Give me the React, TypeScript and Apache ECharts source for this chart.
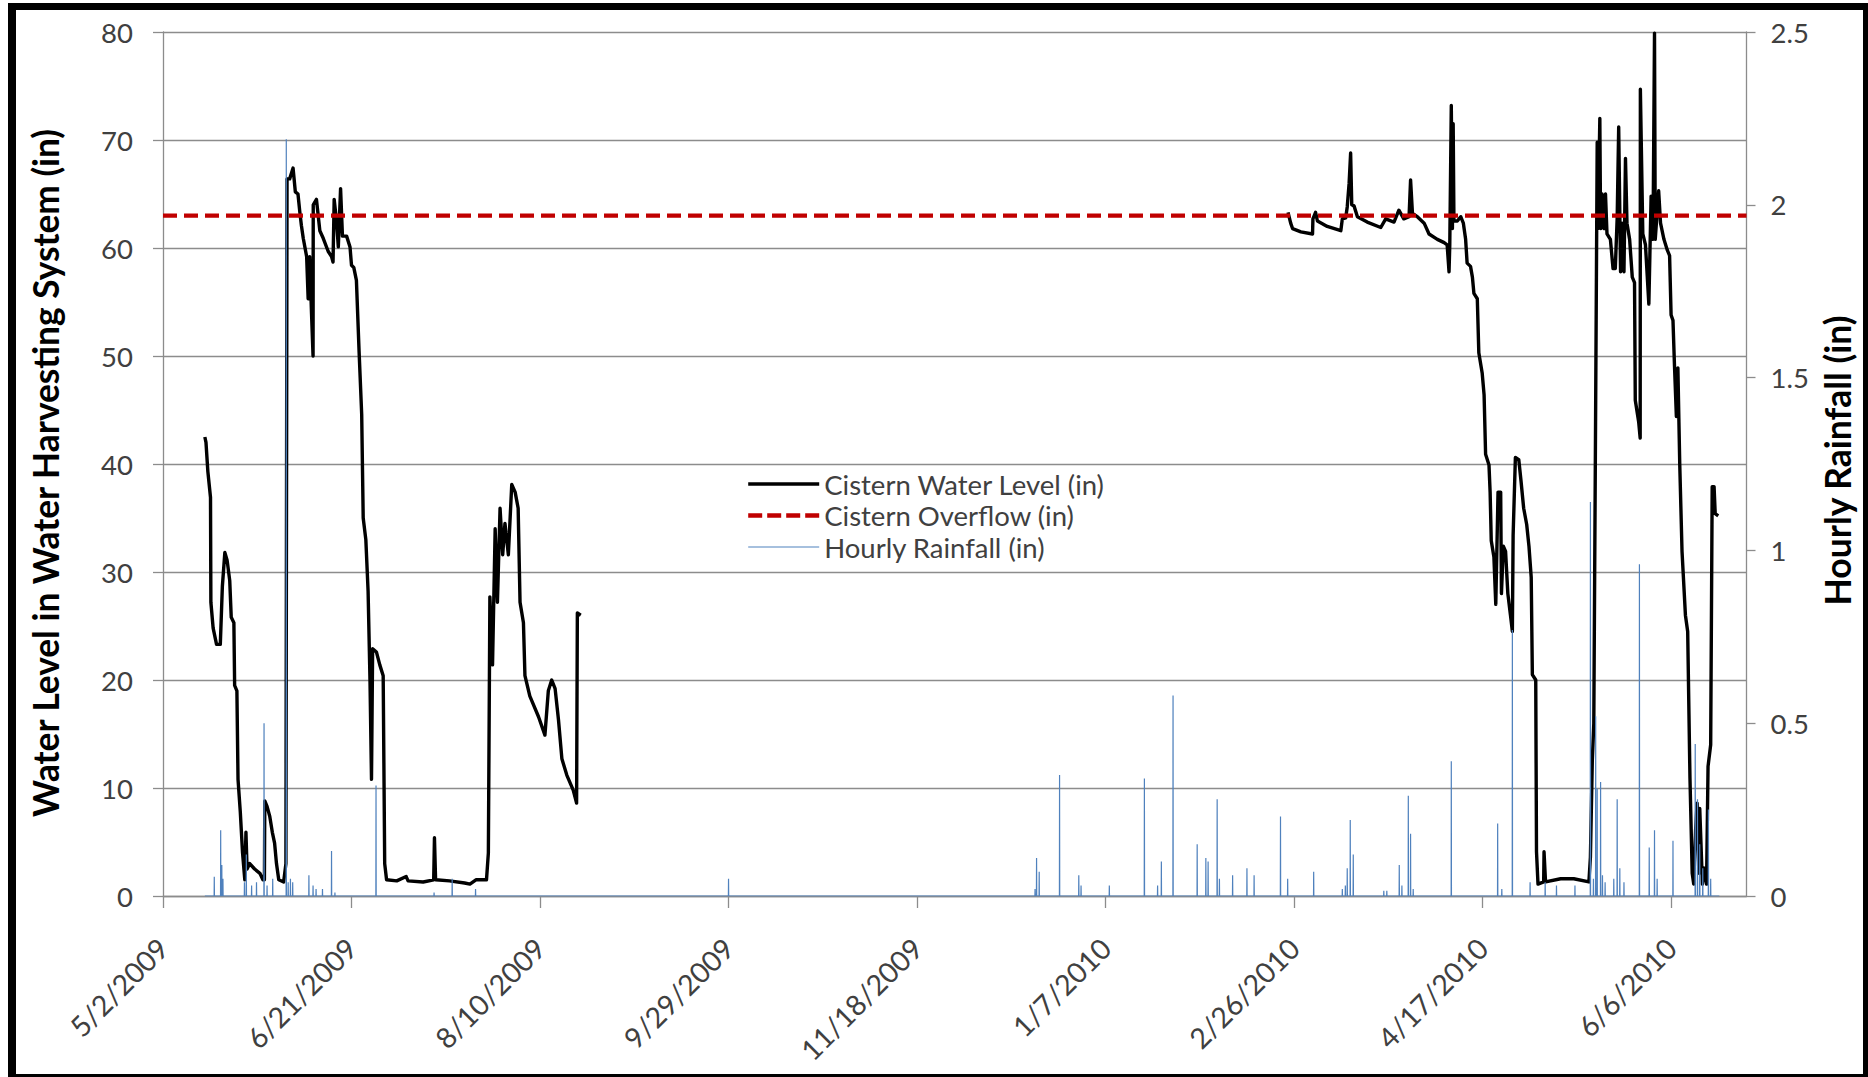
import React, { useEffect, useRef } from "react";
import * as echarts from "echarts";

// x values are days counted from 5/2/2009
const START_DATE_UTC = Date.UTC(2009, 4, 2);
const X_MAX_DAYS = 420;
const X_INTERVAL_DAYS = 50;

const SERIES_NAMES = ["Cistern Water Level (in)", "Cistern Overflow (in)", "Hourly Rainfall (in)"];
const LEFT_TITLE = "Water Level in Water Harvesting System (in)";
const RIGHT_TITLE = "Hourly Rainfall (in)";

const OVERFLOW_LEVEL = 63;

// Cistern water level, first monitoring period (day, inches)
const level2009: [number, number][] = [
  [11.1, 42.5], [11.4, 42.0], [11.9, 39.3], [12.6, 36.9], [12.7, 27.2], [13.3, 24.8], [14.2, 23.3],
  [15.2, 23.3], [15.75, 28.7], [16.4, 31.8], [17.0, 31.1], [17.7, 29.2], [18.1, 25.8], [18.8, 25.3],
  [19.0, 19.5], [19.6, 19.0], [19.9, 10.8], [20.5, 7.8], [21.1, 4.0], [21.7, 1.5], [22.0, 5.9],
  [22.3, 2.5], [23.0, 3.0], [24.3, 2.5], [25.7, 2.1], [26.5, 1.5], [26.9, 1.5], [27.0, 8.8],
  [27.6, 8.3], [28.3, 7.4], [29.0, 5.9], [29.6, 4.9], [30.1, 3.0], [30.7, 1.5], [32.0, 1.3],
  [32.6, 3.0], [32.9, 66.4], [33.6, 66.4], [34.5, 67.4], [35.1, 65.2], [35.8, 65.0], [36.3, 63.3],
  [36.7, 62.1], [37.2, 60.9], [38.1, 59.2], [38.5, 55.3], [38.9, 59.2], [39.4, 53.9], [39.8, 50.0],
  [39.85, 64.0], [40.7, 64.5], [41.6, 61.6], [42.5, 60.9], [43.8, 59.7], [44.7, 59.2], [45.1, 58.7],
  [45.4, 64.5], [46.0, 62.6], [46.5, 60.1], [47.1, 65.5], [47.6, 61.1], [48.7, 61.1], [49.6, 60.1],
  [50.0, 58.4], [50.6, 58.2], [51.3, 57.0], [52.0, 50.5], [52.7, 44.6], [53.1, 35.0], [53.8, 33.0],
  [54.4, 28.2], [54.9, 20.0], [55.3, 10.8], [55.6, 22.9], [56.6, 22.6], [57.5, 21.4], [58.4, 20.4],
  [58.8, 3.0], [59.3, 1.5], [62.0, 1.4], [64.5, 1.8], [65.0, 1.4], [69.0, 1.3], [71.8, 1.5],
  [72.0, 5.4], [72.3, 1.5], [76.0, 1.4], [80.0, 1.2], [81.4, 1.1], [83.0, 1.5], [85.8, 1.5],
  [86.3, 4.0], [86.7, 27.7], [87.4, 21.4], [88.1, 34.0], [88.7, 27.2], [89.4, 35.9], [90.1, 31.6],
  [90.7, 34.5], [91.6, 31.6], [92.5, 38.1], [93.4, 37.4], [94.2, 35.9], [94.7, 27.2], [95.6, 25.3],
  [96.0, 20.4], [97.3, 18.5], [99.6, 16.6], [101.3, 14.9], [102.2, 19.0], [103.1, 20.0], [104.0, 19.2],
  [104.9, 16.3], [105.8, 12.7], [107.1, 11.2], [108.8, 9.8], [109.7, 8.6], [109.9, 26.2], [110.8, 26.0],
];

// Cistern water level, second monitoring period (day, inches)
const level2010: [number, number][] = [
  [298.4, 63.3], [299.1, 62.3], [299.6, 61.8], [301.8, 61.5], [304.9, 61.3], [305.0, 62.7], [305.7, 63.3],
  [306.2, 62.5], [308.8, 62.0], [312.4, 61.6], [312.8, 62.7], [313.7, 62.8], [314.1, 63.8], [314.6, 66.0],
  [315.0, 68.8], [315.3, 64.0], [315.9, 63.9], [316.8, 62.9], [319.4, 62.4], [323.0, 61.9], [324.3, 62.7],
  [326.5, 62.4], [327.8, 63.5], [329.1, 62.7], [330.5, 62.9], [330.9, 66.3], [331.4, 63.2], [332.7, 62.9],
  [334.5, 62.3], [335.8, 61.3], [338.0, 60.8], [339.8, 60.5], [340.6, 60.3], [341.1, 57.8], [341.3, 60.3],
  [341.7, 73.2], [342.0, 61.8], [342.2, 71.5], [342.4, 62.5], [343.3, 62.5], [344.2, 62.9], [344.9, 62.3],
  [345.5, 60.8], [345.9, 58.6], [346.8, 58.3], [347.3, 57.3], [347.7, 55.8], [348.6, 55.3], [349.0, 50.3],
  [349.9, 48.4], [350.4, 46.4], [350.8, 40.9], [351.7, 39.9], [352.0, 37.4], [352.3, 32.9], [353.0, 31.4],
  [353.5, 27.0], [354.1, 37.4], [354.8, 37.4], [355.0, 28.0], [355.5, 32.4], [356.1, 31.9], [356.7, 28.0],
  [357.4, 26.0], [357.9, 24.5], [358.1, 33.4], [358.7, 40.6], [359.6, 40.4], [360.2, 38.4], [360.9, 35.9],
  [361.7, 34.4], [362.3, 32.4], [362.9, 29.5], [363.2, 20.5], [364.1, 20.0], [364.3, 4.1], [364.7, 1.1],
  [366.2, 1.3], [366.3, 4.1], [366.7, 1.3], [370.7, 1.6], [374.2, 1.6], [378.2, 1.3], [378.6, 3.6],
  [379.1, 12.5], [379.5, 16.0], [380.0, 45.9], [380.4, 69.8], [380.6, 61.8], [381.1, 72.0], [381.3, 61.8],
  [381.7, 65.0], [382.2, 61.8], [382.6, 65.0], [383.0, 61.3], [383.9, 60.8], [384.6, 58.1], [385.2, 58.1],
  [385.7, 62.8], [386.1, 71.2], [386.6, 57.8], [387.0, 62.3], [387.5, 57.8], [387.9, 68.3], [388.3, 62.3],
  [389.0, 60.8], [389.7, 57.3], [390.3, 56.8], [390.5, 45.9], [391.4, 43.9], [391.8, 42.4], [391.85, 74.7],
  [392.5, 61.3], [393.2, 60.3], [394.1, 54.8], [394.7, 64.8], [395.2, 60.8], [395.6, 79.9], [395.8, 60.8],
  [396.7, 65.3], [397.2, 62.3], [398.1, 60.8], [399.0, 59.8], [399.6, 59.3], [400.0, 53.8], [400.5, 53.3],
  [400.9, 49.1], [401.4, 44.4], [401.8, 48.9], [402.3, 39.9], [402.9, 31.9], [403.8, 26.0], [404.4, 24.5],
  [405.0, 11.0], [405.6, 2.1], [406.0, 1.1], [406.5, 6.1], [406.9, 8.6], [407.4, 2.1], [407.6, 8.1],
  [408.3, 1.1], [408.7, 2.6], [409.4, 1.1], [409.8, 12.0], [410.5, 14.0], [410.9, 37.9], [411.4, 37.9],
  [411.7, 35.4], [412.5, 35.2],
];

// Hourly rainfall record: first and last logged hour (days)
const rainRecordStart = 11.1;
const rainRecordEnd = 412.8;
// Hours with measurable rain (day, inches); every other logged hour is 0
const rainEvents: [number, number][] = [
  [13.6, 0.056], [15.3, 0.19], [15.6, 0.09], [15.9, 0.05], [21.6, 0.04], [22.1, 0.12], [23.5, 0.03],
  [24.8, 0.04], [26.8, 0.5], [27.6, 0.03], [29.1, 0.05], [32.7, 2.19], [33.2, 0.04], [33.8, 0.05],
  [34.4, 0.04], [38.7, 0.06], [39.8, 0.03], [40.6, 0.02], [42.3, 0.02], [44.7, 0.13], [45.6, 0.01],
  [56.5, 0.32], [71.9, 0.01], [76.7, 0.05], [82.9, 0.02], [150.0, 0.05],
  [231.3, 0.02], [231.7, 0.11], [232.4, 0.07], [237.8, 0.35], [242.9, 0.06], [243.5, 0.03], [251.0, 0.03],
  [260.3, 0.34], [263.8, 0.03], [264.8, 0.1], [267.9, 0.58], [274.3, 0.15], [276.6, 0.11], [277.2, 0.1],
  [279.6, 0.28], [280.2, 0.05], [283.7, 0.06], [287.5, 0.08], [289.4, 0.06], [296.4, 0.23], [298.3, 0.05],
  [305.2, 0.07], [312.8, 0.02], [313.6, 0.03], [314.1, 0.08], [314.9, 0.22], [315.7, 0.12], [323.8, 0.015],
  [324.6, 0.015], [327.9, 0.09], [328.6, 0.03], [330.3, 0.29], [330.9, 0.18], [331.6, 0.02], [341.7, 0.39],
  [354.0, 0.21], [355.1, 0.02], [357.9, 0.77], [362.6, 0.04], [366.6, 0.04], [369.6, 0.03], [374.5, 0.03],
  [378.6, 1.14], [379.4, 0.05], [380.0, 0.52], [380.4, 0.31], [381.3, 0.33], [381.8, 0.06], [382.5, 0.04],
  [384.8, 0.05], [385.7, 0.28], [386.4, 0.08], [387.5, 0.04], [391.6, 0.96], [394.2, 0.14], [395.6, 0.19],
  [396.3, 0.05], [400.5, 0.16], [406.4, 0.44], [407.0, 0.28], [407.6, 0.15], [408.4, 0.08], [409.9, 0.25],
  [410.5, 0.05],
];

const LEFT_TICKS = { min: 0, max: 80, interval: 10 };
const RIGHT_TICKS = { min: 0, max: 2.5, interval: 0.5 };

const FONT = "Lato, 'Open Sans', sans-serif";
const TEXT_COLOR = "#404040";
const GRID_COLOR = "#8c8c8c";

const LEVEL_STYLE = { color: "#000000", width: 3.4 };
const OVERFLOW_STYLE = { color: "#C00000", width: 4.4, type: [14, 7] as number[] };
const RAIN_STYLE = { color: "#4F81BD", width: 1.2 };

function formatDay(v: number): string {
  const d = new Date(START_DATE_UTC + Math.round(v) * 86400000);
  return `${d.getUTCMonth() + 1}/${d.getUTCDate()}/${d.getUTCFullYear()}`;
}

function buildRainSeries(): [number, number][] {
  const hour = 1 / 24;
  const out: [number, number][] = [[rainRecordStart, 0]];
  for (const [d, v] of rainEvents) {
    out.push([d - hour, 0], [d, v], [d + hour, 0]);
  }
  out.push([rainRecordEnd, 0]);
  return out;
}

export default function App() {
  const ref = useRef<HTMLDivElement>(null);

  useEffect(() => {
    if (!ref.current) return;
    const chart = echarts.init(ref.current, null, { renderer: "svg" });

    const levelData: (number | null)[][] = [...level2009, [200, null], ...level2010];

    const option: any = {
      animation: false,
      backgroundColor: "#ffffff",
      textStyle: { fontFamily: FONT },
      grid: { left: 163, right: 121.5, top: 32, bottom: 181, containLabel: false },
      legend: {
        data: [
          { name: SERIES_NAMES[0], lineStyle: { width: LEVEL_STYLE.width, color: LEVEL_STYLE.color } },
          {
            name: SERIES_NAMES[1],
            lineStyle: { width: OVERFLOW_STYLE.width, color: OVERFLOW_STYLE.color, type: [14, 5] },
          },
          { name: SERIES_NAMES[2], lineStyle: { width: RAIN_STYLE.width, color: RAIN_STYLE.color } },
        ],
        orient: "vertical",
        left: 741,
        top: 465,
        itemWidth: 71,
        itemHeight: 14,
        itemGap: 3.5,
        itemStyle: { opacity: 0, borderWidth: 0 },
        textStyle: { fontSize: 27.5, color: TEXT_COLOR, fontFamily: FONT },
        selectedMode: false,
      },
      xAxis: {
        type: "value",
        min: 0,
        max: X_MAX_DAYS,
        interval: X_INTERVAL_DAYS,
        axisLine: { show: true, onZero: false, lineStyle: { color: GRID_COLOR, width: 1.3 } },
        axisTick: { show: true, length: 12, lineStyle: { color: GRID_COLOR, width: 1.3 } },
        splitLine: { show: false },
        axisLabel: {
          rotate: 45,
          margin: 47,
          verticalAlign: "middle",
          showMaxLabel: false,
          fontSize: 28.5,
          color: TEXT_COLOR,
          fontFamily: FONT,
          formatter: (v: number) => (v % X_INTERVAL_DAYS === 0 ? formatDay(v) : ""),
        },
      },
      yAxis: [
        {
          type: "value",
          ...LEFT_TICKS,
          position: "left",
          name: LEFT_TITLE,
          nameLocation: "middle",
          nameRotate: 90,
          nameGap: 100,
          nameTextStyle: {
            fontSize: 35.3,
            fontWeight: "bold",
            color: "#000",
            fontFamily: FONT,
            padding: [0, 18, 0, 0],
          },
          axisLine: { show: true, lineStyle: { color: GRID_COLOR, width: 1.3 } },
          axisTick: { show: true, length: 10, lineStyle: { color: GRID_COLOR, width: 1.3 } },
          splitLine: { show: true, lineStyle: { color: GRID_COLOR, width: 1.3 } },
          axisLabel: { margin: 30, fontSize: 27.5, color: TEXT_COLOR, fontFamily: FONT },
        },
        {
          type: "value",
          ...RIGHT_TICKS,
          position: "right",
          name: RIGHT_TITLE,
          nameLocation: "middle",
          nameRotate: 90,
          nameGap: 73,
          nameTextStyle: {
            fontSize: 35.5,
            fontWeight: "bold",
            color: "#000",
            fontFamily: FONT,
            padding: [0, 0, 0, 7],
          },
          axisLine: { show: true, lineStyle: { color: GRID_COLOR, width: 1.3 } },
          axisTick: { show: true, length: 9, lineStyle: { color: GRID_COLOR, width: 1.3 } },
          splitLine: { show: false },
          axisLabel: {
            margin: 24,
            fontSize: 27.5,
            color: TEXT_COLOR,
            fontFamily: FONT,
            formatter: (v: number) => String(v),
          },
        },
      ],
      series: [
        {
          name: SERIES_NAMES[0],
          type: "line",
          yAxisIndex: 0,
          data: levelData,
          connectNulls: false,
          symbol: "none",
          showSymbol: false,
          z: 2,
          lineStyle: { ...LEVEL_STYLE, join: "round" },
          itemStyle: { color: LEVEL_STYLE.color },
        },
        {
          name: SERIES_NAMES[1],
          type: "line",
          yAxisIndex: 0,
          data: [
            [0, OVERFLOW_LEVEL],
            [X_MAX_DAYS, OVERFLOW_LEVEL],
          ],
          symbol: "none",
          showSymbol: false,
          z: 3,
          lineStyle: { ...OVERFLOW_STYLE },
          itemStyle: { color: OVERFLOW_STYLE.color },
        },
        {
          name: SERIES_NAMES[2],
          type: "line",
          yAxisIndex: 1,
          data: buildRainSeries(),
          symbol: "none",
          showSymbol: false,
          z: 4,
          lineStyle: { ...RAIN_STYLE },
          itemStyle: { color: RAIN_STYLE.color },
        },
      ],
      graphic: [
        { type: "rect", shape: { x: 8, y: 3, width: 8, height: 1074 }, style: { fill: "#000" }, z: 100 },
        { type: "rect", shape: { x: 8, y: 3, width: 1860, height: 7 }, style: { fill: "#000" }, z: 100 },
        { type: "rect", shape: { x: 1863, y: 3, width: 5, height: 1074 }, style: { fill: "#000" }, z: 100 },
        { type: "rect", shape: { x: 8, y: 1074, width: 1860, height: 3 }, style: { fill: "#000" }, z: 100 },
      ],
    };

    chart.setOption(option);
    return () => chart.dispose();
  }, []);

  return (
    <div
      ref={ref}
      style={{ position: "absolute", left: 0, top: 0, width: 1868, height: 1077, background: "#fff" }}
    />
  );
}
